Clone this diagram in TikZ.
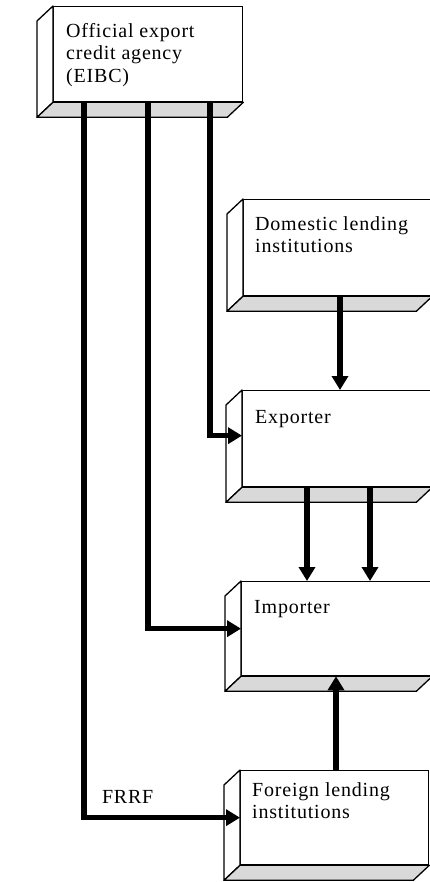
\documentclass[tikz,border=0pt]{standalone}
\usepackage{fontspec}
\setmainfont[LetterSpace=4]{Liberation Serif}
\usetikzlibrary{arrows.meta,calc}

\tikzset{
  face/.style={draw, line width=1.3pt, fill=white, rectangle, anchor=north west, inner sep=0pt},
  sideface/.style={draw, line width=1.3pt, fill=white, line join=round},
  bottomface/.style={draw, line width=1.3pt, fill=gray!30, line join=round},
  boxtext/.style={anchor=north west, align=left, inner sep=0pt, font=\fontsize{20}{22.5}\selectfont},
  flow/.style={line width=5.5pt, -{Triangle[width=16pt,length=14pt]}},
}

\begin{document}
\begin{tikzpicture}[x=1pt,y=-1pt]
  \useasboundingbox (0,0) rectangle (430,882);

  % front faces of the slabs
  \node[face, minimum width=189pt, minimum height=95pt] (eibc) at (53,6) {};
  \node[face, minimum width=188pt, minimum height=96pt] (dom) at (243,199) {};
  \node[face, minimum width=189pt, minimum height=96pt] (expo) at (242,390) {};
  \node[face, minimum width=190pt, minimum height=94pt] (imp) at (241,581) {};
  \node[face, minimum width=188pt, minimum height=94pt] (frn) at (240,770) {};

  % side and bottom faces
  \foreach \b in {eibc,dom,expo,imp,frn}{
    \draw[sideface] (\b.north west) -- ++(-16,15) -- ($(\b.south west)+(-16,15)$) -- (\b.south west) -- cycle;
    \draw[bottomface] (\b.south west) -- (\b.south east) -- ++(-16,15) -- ($(\b.south west)+(-16,15)$) -- cycle;
  }

  % labels
  \node[boxtext] (eibctxt) at ($(eibc.north west)+(13,17)$) {Official export\\credit agency\\(EIBC)};
  \node[boxtext] (domtxt) at ($(dom.north west)+(12,17)$) {Domestic lending\\institutions};
  \node[boxtext] (expotxt) at ($(expo.north west)+(13,20)$) {Exporter};
  \node[boxtext] (imptxt) at ($(imp.north west)+(13,19)$) {Importer};
  \node[boxtext] (frntxt) at ($(frn.north west)+(12,12)$) {Foreign lending\\institutions};

  % flows from the agency
  \draw[flow] ($(eibc.south west)+(31,0)$) |- (frn.west)
    node[pos=0.64, above=11pt, inner sep=0pt, font=\fontsize{20}{22.5}\selectfont] (frrf) {FRRF};
  \draw[flow] ($(eibc.south west)+(95,0)$) |- (imp.west);
  \draw[flow] ($(eibc.south west)+(157,0)$) |- ($(expo.west)+(0,-3)$);

  % flows between the parties
  \draw[flow] ($(dom.south west)+(97,0)$) coordinate (d1) -- (d1 |- expo.north);
  \draw[flow] ($(expo.south west)+(65,0)$) coordinate (e1) -- (e1 |- imp.north);
  \draw[flow] ($(expo.south west)+(128,0)$) coordinate (e2) -- (e2 |- imp.north);
  \draw[flow] ($(frn.north west)+(96,0)$) coordinate (f1) -- (f1 |- imp.south);
\end{tikzpicture}
\end{document}
